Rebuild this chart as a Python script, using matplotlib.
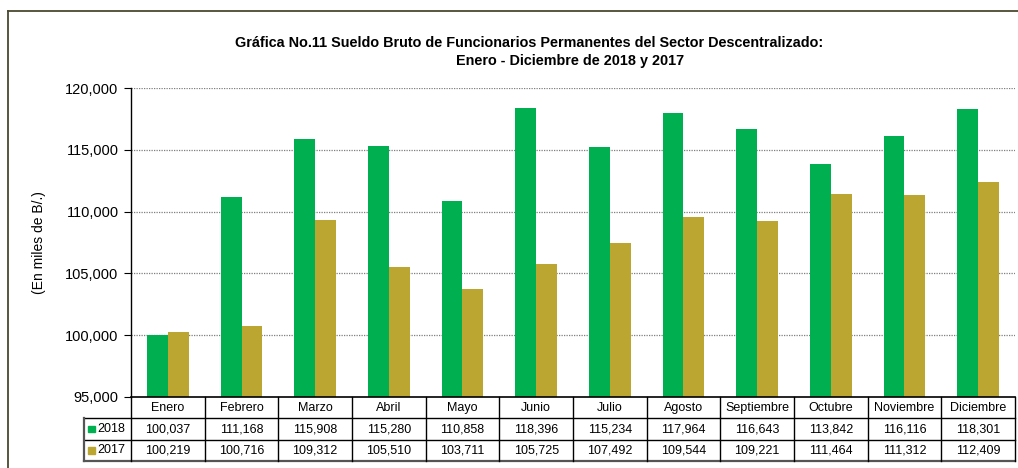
import matplotlib
matplotlib.use("Agg")
import matplotlib.pyplot as plt
from matplotlib.lines import Line2D
from matplotlib.patches import Rectangle
from matplotlib.ticker import FuncFormatter

plt.rcParams['font.family'] = ['Liberation Sans', 'DejaVu Sans']

months = ["Enero", "Febrero", "Marzo", "Abril", "Mayo", "Junio", "Julio",
          "Agosto", "Septiembre", "Octubre", "Noviembre", "Diciembre"]
series_names = ["2018", "2017"]
values_2018 = [100037, 111168, 115908, 115280, 110858, 118396, 115234,
               117964, 116643, 113842, 116116, 118301]
values_2017 = [100219, 100716, 109312, 105510, 103711, 105725, 107492,
               109544, 109221, 111464, 111312, 112409]
yticks = [95000, 100000, 105000, 110000, 115000, 120000]
title_line1 = "Gráfica No.11 Sueldo Bruto de Funcionarios Permanentes del Sector Descentralizado:"
title_line2 = "Enero - Diciembre de 2018 y 2017"
ylabel = "(En miles de B/.)"

c2018 = "#00B050"
c2017 = "#BCA632"

W, H = 1018, 468
fig = plt.figure(figsize=(W / 100, H / 100), dpi=100)

# figure border (left and top only visible)
fig.add_artist(Line2D([8 / W, 8 / W], [-0.01, 1 - 11 / H], transform=fig.transFigure,
                      color="#4a4a30", lw=1.3))
fig.add_artist(Line2D([8 / W, 1.02], [1 - 11 / H, 1 - 11 / H], transform=fig.transFigure,
                      color="#4a4a30", lw=1.3))

x0, x1 = 131, 1015
ytop, ybot = 88, 397
ax = fig.add_axes([x0 / W, 1 - ybot / H, (x1 - x0) / W, (ybot - ytop) / H])
n = len(months)
centers = [i + 0.5 for i in range(n)]
bw = 0.285
ax.bar([c - bw / 2 for c in centers], values_2018, width=bw, color=c2018, zorder=3)
ax.bar([c + bw / 2 for c in centers], values_2017, width=bw, color=c2017, zorder=3)
ax.set_xlim(0, n)
ax.set_ylim(yticks[0], yticks[-1])
ax.set_yticks(yticks)
ax.yaxis.set_major_formatter(FuncFormatter(lambda v, p: f"{v:,.0f}"))
ax.tick_params(axis='y', direction='out', length=5, width=0.8, labelsize=10.5,
               pad=4, colors='black')
ax.tick_params(axis='x', bottom=False, labelbottom=False)
for s in ['top', 'right', 'bottom']:
    ax.spines[s].set_visible(False)
ax.spines['left'].set_linewidth(1.0)
for t in yticks[1:]:
    ax.axhline(t, color='#7f7f7f', lw=0.9, linestyle=(0, (1, 1)), zorder=1)
ax.set_ylabel(ylabel, fontsize=10)
ax.yaxis.set_label_coords(-0.096, 0.5)

fig.text(529 / W, 1 - 43 / H, title_line1, ha='center', va='center', fontsize=10.4,
         fontweight='bold')
fig.text(570 / W, 1 - 61 / H, title_line2, ha='center', va='center', fontsize=10.4,
         fontweight='bold')

# table axes
tl = 84
tb_top, tb_bot = 397, 461
legw = (x0 - tl) / ((x1 - x0) / n)
tax = fig.add_axes([tl / W, 1 - tb_bot / H, (x1 - tl) / W, (tb_bot - tb_top) / H])
tax.set_xlim(-legw, n)
tax.set_ylim(0, 3)
tax.axis('off')
lc = 'black'
# horizontal lines
tax.plot([0, n], [3, 3], color=lc, lw=1.2, clip_on=False)
tax.plot([-legw, n], [2, 2], color=lc, lw=1.0, clip_on=False)
tax.plot([-legw, n], [1, 1], color=lc, lw=1.0, clip_on=False)
tax.plot([-legw, n], [0, 0], color='#555555', lw=1.6, clip_on=False)
# vertical lines
for i in range(n + 1):
    tax.plot([i, i], [0, 3], color=lc, lw=1.0, clip_on=False)
tax.plot([-legw, -legw], [0, 2], color='#555555', lw=1.6, clip_on=False)
for i, m in enumerate(months):
    tax.text(i + 0.5, 2.5, m, ha='center', va='center', fontsize=9)
    tax.text(i + 0.5, 1.5, f"{values_2018[i]:,}", ha='center', va='center', fontsize=9)
    tax.text(i + 0.5, 0.5, f"{values_2017[i]:,}", ha='center', va='center', fontsize=9)
sq = 7 / ((x1 - tl) / (n + legw))
for yc, col, name in [(1.5, c2018, series_names[0]), (0.5, c2017, series_names[1])]:
    tax.add_patch(Rectangle((-legw + 0.06, yc - 0.16), sq, 0.32, color=col, clip_on=False))
    tax.text(-legw + 0.06 + sq + 0.03, yc, name, ha='left', va='center', fontsize=9)

fig.savefig("out.png", dpi=100)
